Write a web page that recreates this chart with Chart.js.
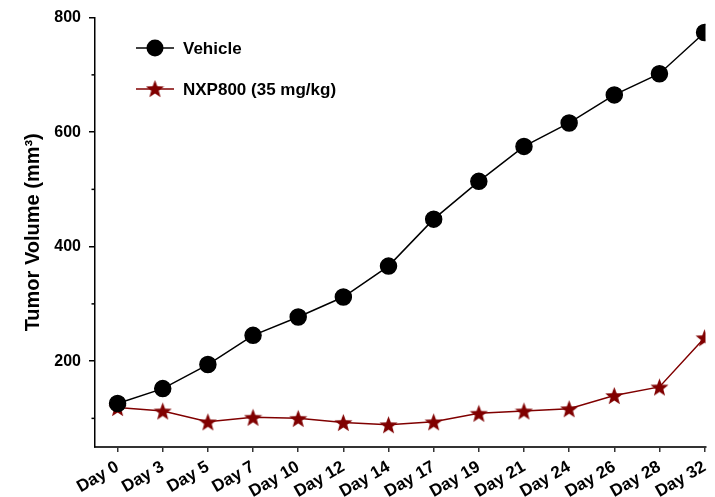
<!DOCTYPE html>
<html>
<head>
<meta charset="utf-8">
<script src="https://cdn.jsdelivr.net/npm/chart.js@4"></script>
<style>
  body { margin: 0; background: #fff; }
  #wrap { width: 715px; height: 497px; }
</style>
</head>
<body>
<div id="wrap"><canvas id="tumorChart"></canvas></div>
<script>
// chart data
const dayLabels = ['Day 0', 'Day 3', 'Day 5', 'Day 7', 'Day 10', 'Day 12', 'Day 14',
  'Day 17', 'Day 19', 'Day 21', 'Day 24', 'Day 26', 'Day 28', 'Day 32'];
const vehicleValues = [126, 152, 194, 245, 277, 312, 366, 448, 514, 575, 616, 665, 702, 774];
const nxpValues = [119, 113, 94, 102, 100, 93, 89, 94, 109, 113, 117, 140, 155, 241];
const yMajorTicks = [200, 400, 600, 800];
const yMinorTicks = [100, 300, 500, 700];

const darkRed = 'rgb(128,0,0)';
const fontFamily = '"Liberation Sans", Arial, sans-serif';

// filled five point star used as point style
let makeStar = function (size, color) {
  const c = document.createElement('canvas');
  c.width = size;
  c.height = size;
  const ctx = c.getContext('2d');
  const cx = size / 2, cy = size / 2 + 1;
  const outer = size / 2, inner = outer * 0.42;
  ctx.beginPath();
  for (let i = 0; i < 10; i++) {
    const r = i % 2 === 0 ? outer : inner;
    const a = -Math.PI / 2 + i * Math.PI / 5;
    const px = cx + r * Math.cos(a), py = cy + r * Math.sin(a);
    if (i === 0) ctx.moveTo(px, py); else ctx.lineTo(px, py);
  }
  ctx.closePath();
  ctx.fillStyle = color;
  ctx.fill();
  return c;
};
const starImg = makeStar(19, darkRed);

const toPoints = (arr) => arr.map((v, i) => ({ x: i, y: v }));

// minor y ticks and the legend drawn inside the plot
const extrasPlugin = {
  id: 'extras',
  afterDraw(chart) {
    const ctx = chart.ctx;
    const yScale = chart.scales.y;
    const left = chart.chartArea.left;
    ctx.save();
    ctx.strokeStyle = '#000';
    ctx.lineWidth = 1.5;
    yMinorTicks.forEach(v => {
      const py = yScale.getPixelForValue(v);
      ctx.beginPath();
      ctx.moveTo(left - 3.5, py);
      ctx.lineTo(left, py);
      ctx.stroke();
    });

    const items = [
      { label: 'Vehicle', color: '#000', y: 48, star: false },
      { label: 'NXP800 (35 mg/kg)', color: darkRed, y: 89, star: true }
    ];
    items.forEach(it => {
      ctx.strokeStyle = it.color;
      ctx.lineWidth = 1.5;
      ctx.beginPath();
      ctx.moveTo(136, it.y);
      ctx.lineTo(174, it.y);
      ctx.stroke();
      if (it.star) {
        ctx.drawImage(starImg, 155 - 9.5, it.y - 10);
      } else {
        ctx.fillStyle = it.color;
        ctx.beginPath();
        ctx.arc(155, it.y, 8.5, 0, Math.PI * 2);
        ctx.fill();
      }
      ctx.fillStyle = '#000';
      ctx.font = 'bold 17px ' + fontFamily;
      ctx.textBaseline = 'middle';
      ctx.textAlign = 'left';
      ctx.fillText(it.label, 183, it.y + 1);
    });
    ctx.restore();
  }
};

const data = {
  datasets: [
    {
      label: 'Vehicle',
      data: toPoints(vehicleValues),
      borderColor: '#000',
      backgroundColor: '#000',
      borderWidth: 1.5,
      pointRadius: 8,
      pointStyle: 'circle',
      tension: 0
    },
    {
      label: 'NXP800 (35 mg/kg)',
      data: toPoints(nxpValues),
      borderColor: darkRed,
      backgroundColor: darkRed,
      borderWidth: 1.5,
      pointStyle: starImg,
      tension: 0
    }
  ]
};

const config = {
  type: 'line',
  data,
  options: {
    responsive: true,
    maintainAspectRatio: false,
    animation: false,
    layout: { padding: { top: 17, right: 3, left: 0, bottom: 0 } },
    plugins: {
      legend: { display: false },
      tooltip: { enabled: false }
    },
    scales: {
      x: {
        type: 'linear',
        min: -0.5,
        max: 13.02,
        afterBuildTicks: (scale) => {
          scale.ticks = dayLabels.map((d, i) => ({ value: i }));
        },
        afterFit: (scale) => {
          scale.height = 50;
          scale.paddingLeft = 0;
          scale.paddingRight = 0;
        },
        grid: {
          drawOnChartArea: false,
          tickLength: 5,
          color: '#333',
          lineWidth: 1.5
        },
        border: { color: '#333', width: 2 },
        ticks: {
          color: '#000',
          font: { family: fontFamily, size: 17, weight: 'bold' },
          minRotation: 30,
          maxRotation: 30,
          padding: 5,
          callback: (v) => dayLabels[v]
        }
      },
      y: {
        min: 50,
        max: 800,
        afterBuildTicks: (scale) => {
          scale.ticks = yMajorTicks.map(v => ({ value: v }));
        },
        afterFit: (scale) => { scale.width = 95; },
        grid: {
          drawOnChartArea: false,
          tickLength: 6,
          color: '#000',
          lineWidth: 1.5
        },
        border: { color: '#000', width: 1.5 },
        ticks: {
          color: '#000',
          font: { family: fontFamily, size: 16, weight: 'bold' },
          padding: 8
        },
        title: {
          display: true,
          text: 'Tumor Volume (mm³)',
          color: '#000',
          font: { family: fontFamily, size: 20, weight: 'bold' },
          padding: { top: 21, bottom: 0 }
        }
      }
    }
  },
  plugins: [extrasPlugin]
};

let tumorChart = new Chart(document.getElementById('tumorChart'), config);
</script>
</body>
</html>
